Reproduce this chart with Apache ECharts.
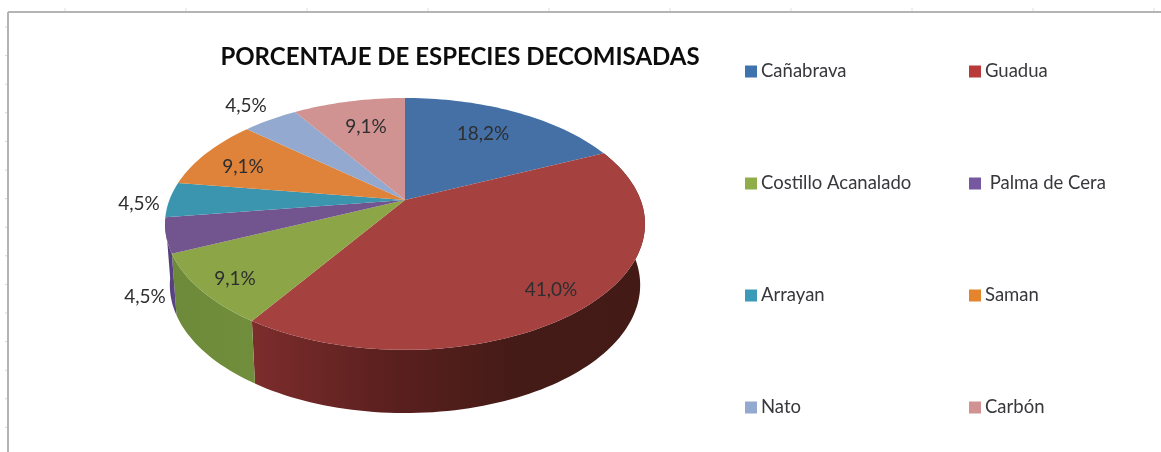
<!DOCTYPE html>
<html>
<head>
<meta charset="utf-8">
<style>html,body{margin:0;padding:0;background:#fff}#c{width:1161px;height:452px;filter:blur(0.45px)}</style>
<script src="https://cdn.jsdelivr.net/npm/echarts@6/dist/echarts.min.js"></script>
</head>
<body>
<div id="c"></div>
<script>
// ---- data ----
const titleText = 'PORCENTAJE DE ESPECIES DECOMISADAS';
const categories = ['Cañabrava', 'Guadua', 'Costillo Acanalado', ' Palma de Cera', 'Arrayan', 'Saman', 'Nato', 'Carbón'];
const values = [18.2, 41.0, 9.1, 4.5, 4.5, 9.1, 4.5, 9.1];
const valueLabels = ['18,2%', '41,0%', '9,1%', '4,5%', '4,5%', '9,1%', '4,5%', '9,1%'];

// ---- styling ----
const topColors = ['#4470A6', '#A54240', '#8BA547', '#72558F', '#3C95AE', '#DE8339', '#93A9CF', '#D09392'];
const legendColors = ['#3F73AE', '#B83A3A', '#8FAE4A', '#7558A0', '#3B9AB8', '#E5842C', '#93A9CF', '#D09392'];
const wallStops = [
  ['#2c4a70', '#2c4a70'],
  ['#7c2d2c', '#5c201f', '#451b17', '#431a16'],
  ['#6d8a3a', '#718e3c'],
  ['#4f3a72', '#5c4786'],
  ['#286478', '#286478'],
  ['#96561f', '#96561f'],
  ['#62718c', '#62718c'],
  ['#8c6160', '#8c6160']
];
const labelCentres = [[483, 134], [551, 290], [235, 279], [145, 297], [139, 204], [243, 167], [246, 106], [366, 127]];
const FONT = 'Lato, Carlito, "Open Sans", sans-serif';

// ---- perspective view of the pie disc ----
const TOP = { cx: 405, apexY: 200, B: 235.6, A: 121.4 };
const BOTTOM = { cx: 405, apexY: 260.7, B: 230.9, A: 123.4 };
const K = 0.19;
const total = values.reduce((a, b) => a + b, 0);
const starts = values.map((_, i) => values.slice(0, i).reduce((a, b) => a + b, 0));

function project(view, share, r) {
  const t = share / total * Math.PI * 2;
  const u = r * Math.sin(t), v = r * Math.cos(t), d = 1 + K * v;
  return [view.cx + view.B * u / d, view.apexY - view.A * v / d];
}
function arc(view, a, b) {
  const n = Math.max(2, Math.ceil((b - a) / total * 240));
  const pts = [];
  for (let i = 0; i <= n; i++) pts.push(project(view, a + (b - a) * i / n, 1));
  return pts;
}
function facesViewer(i) {
  return Math.cos((starts[i] + values[i] / 2) / total * Math.PI * 2) < -0.01;
}
function renderTop(i) {
  return function (params, api) {
    const v = api.value(0), s = api.value(1);
    return {
      type: 'group',
      children: [
        { type: 'polygon', shape: { points: [[TOP.cx, TOP.apexY]].concat(arc(TOP, s, s + v)) }, style: { fill: topColors[i] } },
        { type: 'text', x: labelCentres[i][0], y: labelCentres[i][1], z2: 10,
          style: { text: valueLabels[i], fill: '#2e2e30', font: '19px ' + FONT, align: 'center', verticalAlign: 'middle' } }
      ]
    };
  };
}
function renderWall(i) {
  return function (params, api) {
    const v = api.value(0), s = api.value(1);
    const a = arc(TOP, s, s + v), b = arc(BOTTOM, s, s + v).reverse();
    const cols = wallStops[i];
    const stops = cols.map((color, k) => ({ offset: k / (cols.length - 1), color }));
    return {
      type: 'polygon',
      shape: { points: a.concat(b) },
      style: { fill: new echarts.graphic.LinearGradient(0, 0, 1, 0, stops) }
    };
  };
}

const series = [];
categories.forEach((name, i) => {
  if (!facesViewer(i)) return;
  series.push({ type: 'custom', name, coordinateSystem: 'none', z: 1, silent: true, animation: false,
    itemStyle: { color: legendColors[i] }, renderItem: renderWall(i), data: [[values[i], starts[i]]] });
});
categories.forEach((name, i) => {
  series.push({ type: 'custom', name, coordinateSystem: 'none', z: 2, silent: true, animation: false,
    itemStyle: { color: legendColors[i] }, renderItem: renderTop(i), data: [[values[i], starts[i]]] });
});

// spreadsheet frame behind the chart
const frame = [
  { type: 'line', shape: { x1: 8, y1: 12, x2: 1161, y2: 12 }, style: { stroke: '#b4b4b4', lineWidth: 2 } },
  { type: 'line', shape: { x1: 8, y1: 12, x2: 8, y2: 452 }, style: { stroke: '#b4b4b4', lineWidth: 2 } }
];
for (let x = 65; x < 1161; x += 121) frame.push({ type: 'line', shape: { x1: x, y1: 8, x2: x, y2: 11 }, style: { stroke: '#dedede', lineWidth: 1 } });
for (let y = 27; y < 452; y += 28.6) frame.push({ type: 'line', shape: { x1: 5, y1: y, x2: 7, y2: y }, style: { stroke: '#d6d6d6', lineWidth: 1 } });

const legendBase = {
  orient: 'vertical', top: 62, itemWidth: 12, itemHeight: 12, itemGap: 93, padding: 0, selectedMode: false,
  icon: 'rect', textStyle: { fontFamily: FONT, fontSize: 18.5, color: '#38383c', padding: [0, 0, 0, -1] }
};
const legendData = idx => idx.map(i => ({ name: categories[i], itemStyle: { color: legendColors[i] } }));

const chart = echarts.init(document.getElementById('c'), null, { renderer: 'canvas' });
chart.setOption({
  animation: false,
  backgroundColor: '#ffffff',
  title: {
    text: titleText, left: 460, top: 45, textAlign: 'center', padding: 0,
    textStyle: { fontFamily: FONT, fontWeight: 'bold', fontSize: 24, color: '#0c0c0c' }
  },
  legend: [
    Object.assign({}, legendBase, { left: 745, data: legendData([0, 2, 4, 6]) }),
    Object.assign({}, legendBase, { left: 969, data: legendData([1, 3, 5, 7]) })
  ],
  graphic: frame.map(f => Object.assign({ silent: true, z: 0 }, f)),
  series
});
</script>
</body>
</html>
